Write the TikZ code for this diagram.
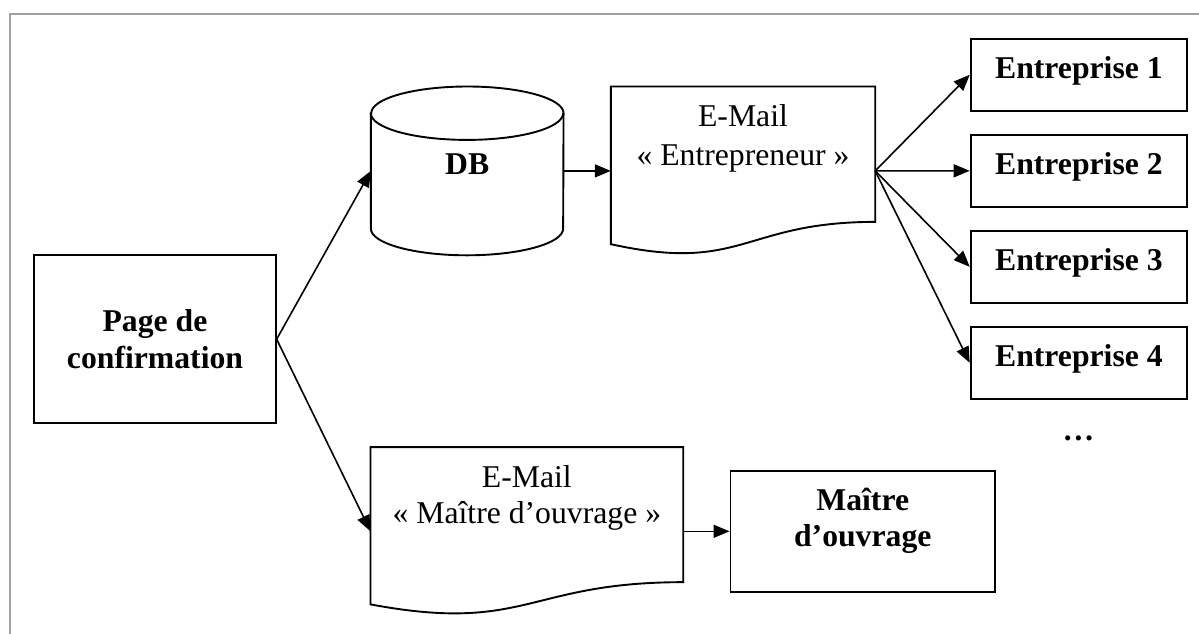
\documentclass[tikz,border=0pt]{standalone}
\usepackage{fontspec}
\setmainfont{Liberation Serif}
\usetikzlibrary{arrows.meta,calc}
\definecolor{framegray}{RGB}{160,160,160}

% two centred lines whose baseline is the first line's baseline
\newcommand{\twolines}[2]{\begin{tabular}[t]{@{}c@{}}#1\\#2\end{tabular}}

\begin{document}
\begin{tikzpicture}[x=1pt,y=-1pt,
  outline/.style={draw=black, line width=1.9pt},
  boxnode/.style={outline, rectangle, inner sep=0pt},
  hidden/.style={rectangle, inner sep=0pt},
  conn/.style={line width=1.6pt, -{Triangle[length=16pt,width=13pt]}},
  boldtext/.style={font=\fontsize{31.7}{36.3}\selectfont\bfseries},
  plaintext/.style={font=\fontsize{31.7}{#1}\selectfont},
  entbox/.style={boxnode, boldtext, minimum width=216.5pt, minimum height=71.5pt,
                 text height=39.5pt, text depth=32pt},
]
\useasboundingbox (0,0) rectangle (1199,633);

% page frame (top and left edges)
\draw[framegray, line width=2pt] (10,645) -- (10,14) -- (1210,14);

% confirmation page
\node[boxnode, boldtext, minimum width=241.4pt, minimum height=168.3pt,
      text height=76.7pt, text depth=91.6pt] (page) at (155,339.2)
      {\twolines{Page de}{confirmation}};

% database cylinder
\node[hidden, boldtext, minimum width=192.3pt, minimum height=168.4pt,
      text height=87.3pt, text depth=81.1pt] (db) at (467.2,170.9) {DB};
\draw[outline] ([yshift=-26.7pt]db.north west) -- ([yshift=26.7pt]db.south west)
  arc[start angle=180, end angle=360, x radius=96.15pt, y radius=26.7pt]
  -- ([yshift=-26.7pt]db.north east)
  arc[start angle=0, end angle=180, x radius=96.15pt, y radius=26.7pt] -- cycle;
\draw[outline] ([yshift=-26.7pt]db.north west)
  arc[start angle=180, end angle=360, x radius=96.15pt, y radius=26.7pt];

% e-mail to the contractors (document shape)
\node[hidden, plaintext=38.3, minimum width=264pt, minimum height=168.4pt,
      text height=40pt, text depth=128.4pt] (mailent) at (743,170.9)
      {\twolines{E-Mail}{« Entrepreneur »}};
\draw[outline] (mailent.north west) -- (mailent.north east)
  -- ($(mailent.north east)!0.802!(mailent.south east)$)
  .. controls ($(mailent.north)!0.802!(mailent.south)$) and ($(mailent.north)!1.1075!(mailent.south)$)
  .. ($(mailent.north west)!0.934!(mailent.south west)$) -- cycle;

% e-mail to the project owner (document shape)
\node[hidden, plaintext=36, minimum width=312.3pt, minimum height=168pt,
      text height=40pt, text depth=128pt] (mailmo) at (526.85,531.3)
      {\twolines{E-Mail}{« Maître d’ouvrage »}};
\draw[outline] (mailmo.north west) -- (mailmo.north east)
  -- ($(mailmo.north east)!0.802!(mailmo.south east)$)
  .. controls ($(mailmo.north)!0.802!(mailmo.south)$) and ($(mailmo.north)!1.1075!(mailmo.south)$)
  .. ($(mailmo.north west)!0.934!(mailmo.south west)$) -- cycle;

% project owner
\node[boxnode, font=\fontsize{31.7}{36}\selectfont\bfseries, minimum width=264.5pt,
      minimum height=120.7pt, text height=39.7pt, text depth=81pt] (mo) at (862.75,531.3)
      {\twolines{Maître}{d’ouvrage}};

% contractors
\foreach \i/\y in {1/74.8, 2/170.8, 3/266.8, 4/362.8}
  \node[entbox] (ent\i) at (1078.9,\y) {Entreprise \i};
\node[boldtext, anchor=base, inner sep=0pt] (more) at (1078.5,440) {…};

% connectors
\draw[conn] (page.east) -- (db.west);
\draw[conn] (page.east) -- (mailmo.west);
\draw[conn] (db.east) -- (mailent.west);
\foreach \i in {1,...,4}
  \draw[conn] (mailent.east) -- (ent\i.west);
\draw[conn] (mailmo.east) -- (mo.west);
\end{tikzpicture}
\end{document}
